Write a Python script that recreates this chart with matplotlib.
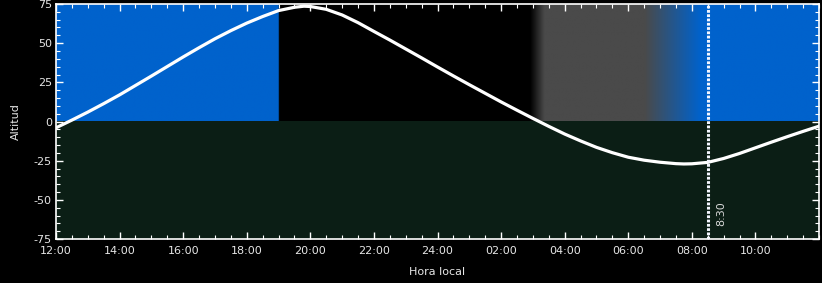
import numpy as np
import matplotlib
matplotlib.use("Agg")
import matplotlib.pyplot as plt
from matplotlib.ticker import MultipleLocator

plt.rcParams["axes.unicode_minus"] = False

# Hours elapsed since 12:00 local time
hours = [0, 0.5, 1, 1.5, 2, 2.5, 3, 3.5, 4, 4.5, 5, 5.5, 6, 6.5, 7, 7.5, 7.8, 8,
         8.5, 9, 9.5, 10, 10.5, 11, 11.5, 12, 12.5, 13, 13.5, 14, 14.5, 15, 15.5,
         16, 16.5, 17, 17.5, 18, 18.5, 19, 19.5, 19.75, 20, 20.5, 21, 21.5, 22,
         22.5, 23, 23.5, 24]
altitude = [-4, 0.9, 6, 11.4, 17, 23, 29, 35.1, 41.2, 47.1, 52.8, 58.0, 62.8,
            67.0, 70.8, 72.9, 73.6, 73.4, 71.6, 68.0, 63.1, 57.5, 52.0, 46.3, 40.6,
            34.8, 29.1, 23.5, 18.0, 12.5, 7.2, 2.0, -3.1, -8.0, -12.4, -16.5, -19.9,
            -22.8, -24.7, -26.0, -26.9, -27.1, -27.0, -26.1, -23.6, -20.4, -16.8,
            -13.2, -9.7, -6.3, -3.0]

tick_hours = [0, 2, 4, 6, 8, 10, 12, 14, 16, 18, 20, 22]
tick_labels = ["12:00", "14:00", "16:00", "18:00", "20:00", "22:00", "24:00",
               "02:00", "04:00", "06:00", "08:00", "10:00"]

# sky background colour stops (hour, colour)
sky_stop_hours = [0, 7.0, 7.0, 14.9, 15.35, 18.5, 20.25, 24]
sky_stop_colors = ["#0062cc", "#0062cc", "#000000", "#000000", "#4a4a4a",
                   "#4a4a4a", "#0062cc", "#0062cc"]
ground_color = "#0b1e15"

marker_hour = 20.5
marker_label = "8:30"

fig = plt.figure(figsize=(8.22, 2.83), dpi=100, facecolor="black")
ax = fig.add_axes([56/822, 44/283, 763/822, 235/283])
ax.set_facecolor("black")

# Sky gradient
xs = np.linspace(0, 24, 2400)
rgb = np.array([matplotlib.colors.to_rgb(c) for c in sky_stop_colors])
cols = np.stack([np.interp(xs, sky_stop_hours, rgb[:, i]) for i in range(3)], axis=-1)
img = cols[np.newaxis, :, :]
ax.imshow(img, extent=[0, 24, 0, 75], aspect="auto", interpolation="bilinear", zorder=0)
ax.axhspan(-75, 0, color=ground_color, zorder=0.5, lw=0)

ax.plot(hours, altitude, color="white", lw=2.3, zorder=3,
        solid_capstyle="round", solid_joinstyle="round")

ax.axvline(marker_hour, color="#f4f6ff", lw=2.2, linestyle=(0, (0.9, 0.5)), zorder=4)
ax.text(marker_hour + 0.42, -59, marker_label, rotation=90, ha="center", va="center",
        color="#d8d8d8", fontsize=8, zorder=5)

ax.set_xlim(0, 24)
ax.set_ylim(-75, 75)
ax.set_xticks(tick_hours)
ax.set_xticklabels(tick_labels)
ax.xaxis.set_minor_locator(MultipleLocator(0.5))
ax.set_yticks([-75, -50, -25, 0, 25, 50, 75])
ax.yaxis.set_minor_locator(MultipleLocator(5))

ax.tick_params(which="both", direction="in", colors="white", top=True, right=True,
               labelcolor="#e6e6e6", labelsize=8)
ax.tick_params(which="major", length=5, width=1)
ax.tick_params(which="minor", length=3, width=0.8)
ax.tick_params(axis="x", pad=5)
ax.tick_params(axis="y", pad=3)
for s in ax.spines.values():
    s.set_color("white")
    s.set_linewidth(1.2)

ax.set_xlabel("Hora local", color="#e6e6e6", fontsize=8, labelpad=8)
ax.set_ylabel("Altitud", color="#e6e6e6", fontsize=8, labelpad=9)

fig.savefig("out.png", dpi=100, facecolor="black")
